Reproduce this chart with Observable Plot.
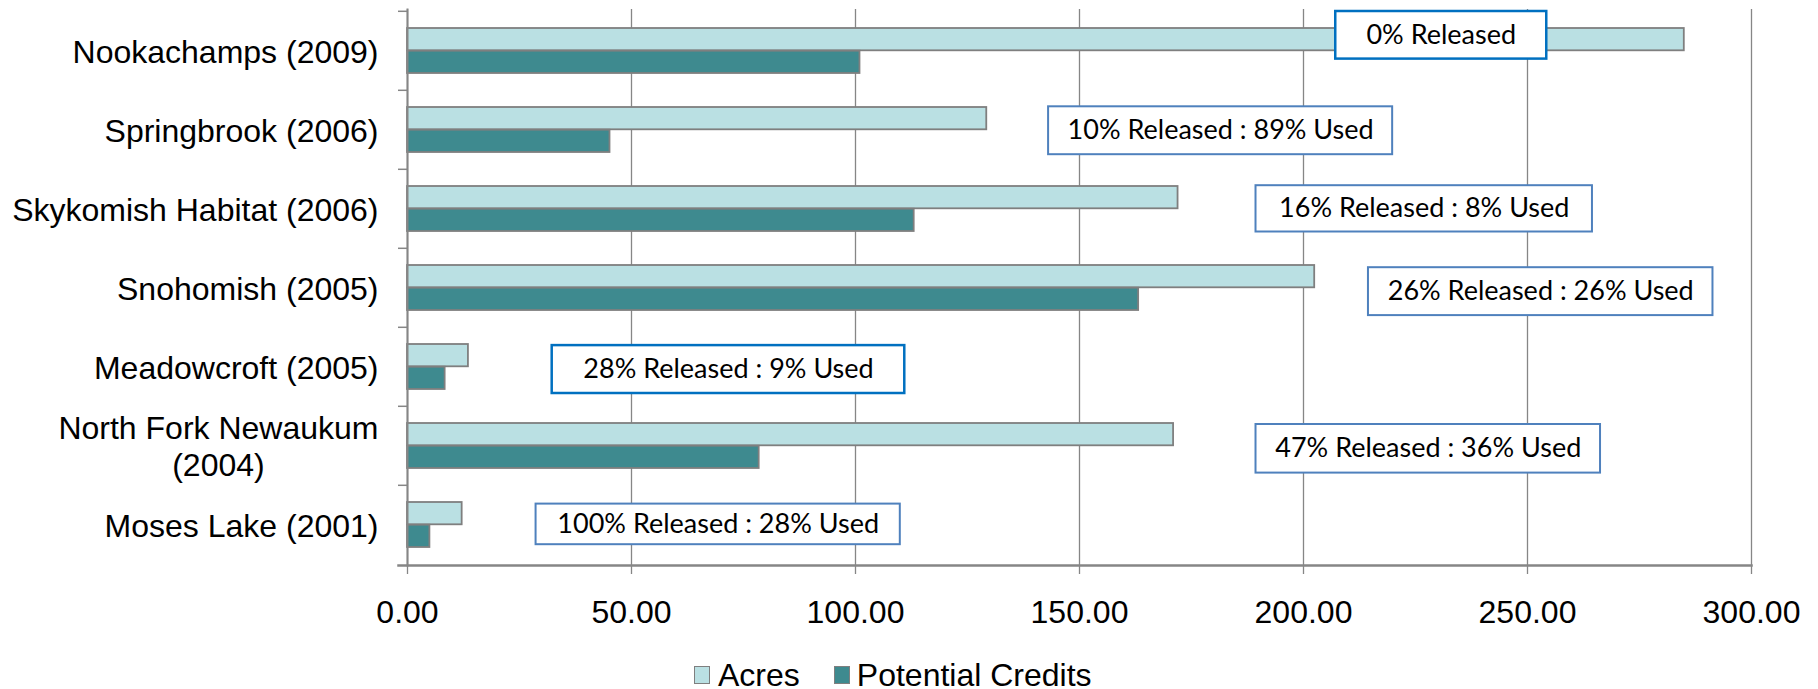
<!DOCTYPE html>
<html>
<head>
<meta charset="utf-8">
<script src="https://cdn.jsdelivr.net/npm/d3@7"></script>
<script src="https://cdn.jsdelivr.net/npm/@observablehq/plot@0.6"></script>
<style>
  html, body { margin: 0; padding: 0; background: #fff; }
  #chart svg { display: block; }
  .legend { position: relative; height: 36px; margin-top: 12px; display: flex; align-items: center;
            padding-left: 694px; font-family: "Liberation Sans", Arial, sans-serif; font-size: 32px; color: #000; }
  .sw { width: 16px; height: 18px; box-sizing: border-box; border: 1.5px solid #7f7f7f; }
</style>
</head>
<body>
<div id="chart"></div>
<div class="legend">
  <span class="sw" id="swA" style="margin-right:8px"></span><span id="lgA" style="margin-right:34px"></span>
  <span class="sw" id="swC" style="margin-right:7px"></span><span id="lgC"></span>
</div>
<script>
// ---- data ----
const categories = ["Nookachamps (2009)", "Springbrook (2006)", "Skykomish Habitat (2006)", "Snohomish (2005)", "Meadowcroft (2005)", "North Fork Newaukum (2004)", "Moses Lake (2001)"];
const acres   = [285.0, 129.3, 172.0, 202.5, 13.6, 171.0, 12.2];
const credits = [101.0, 45.2, 113.1, 163.2, 8.4, 78.5, 5.0];
const seriesNames = ["Acres", "Potential Credits"];
const notes = ["0% Released", "10% Released : 89% Used", "16% Released : 8% Used", "26% Released : 26% Used", "28% Released : 9% Used", "47% Released : 36% Used", "100% Released : 28% Used"];
const xTicks = [0, 50, 100, 150, 200, 250, 300];

// ---- annotation layout (x in data units, vertical insets in px within each band) ----
const noteX1 = [207.2, 143.1, 189.4, 214.5, 32.3, 189.4, 28.7];
const noteX2 = [254.3, 219.9, 264.5, 291.4, 111.0, 266.3, 110.0];
const noteInsetTop = [0, 16.3, 16.2, 19.2, 18.1, 18.0, 18.6];
const noteInsetBottom = [31.4, 14.8, 16.5, 11.9, 13.0, 12.4, 19.8];
const noteStroke = ["#0070C0", "#4F81BD", "#4F81BD", "#4F81BD", "#0070C0", "#4F81BD", "#4F81BD"];
const noteStrokeWidth = [2.5, 2, 2, 2, 2.5, 2, 2];

// ---- styles ----
const colorAcres = "#BAE0E3";
const colorCredits = "#3E8A8F";
const gray = "#868686";
const barStroke = "#7f7f7f";

const rows = categories.map((c, i) => ({category: c, acres: acres[i], credits: credits[i]}));
const noteRows = notes.map((t, i) => ({category: categories[i], note: t, x1: noteX1[i], x2: noteX2[i]}));

const half = 39.7, barH = 22.7;

const noteMarks = noteRows.flatMap((r, i) => [
  Plot.barX([r], {x1: "x1", x2: "x2", y: "category", fill: "white", stroke: noteStroke[i], strokeWidth: noteStrokeWidth[i],
    insetTop: noteInsetTop[i], insetBottom: noteInsetBottom[i], insetLeft: 0, insetRight: 0}),
  Plot.text([r], {x: d => (d.x1 + d.x2) / 2, y: "category", text: "note", dy: (noteInsetTop[i] - noteInsetBottom[i]) / 2,
    fontFamily: "Lato, 'Open Sans', sans-serif", fontSize: 27, fill: "#000", textAnchor: "middle"})
]);

const chart = Plot.plot({
  width: 1818,
  height: 645,
  marginLeft: 407,
  marginRight: 67,
  marginTop: 9,
  marginBottom: 80,
  x: {domain: [0, 300], axis: null},
  y: {domain: categories, padding: 0, axis: null},
  style: {fontFamily: "'Liberation Sans', Arial, sans-serif", fontSize: "32px", color: "#000", background: "#fff"},
  marks: [
    Plot.gridX(xTicks, {stroke: gray, strokeOpacity: 1, strokeWidth: 1.3}),
    Plot.barX(rows, {y: "category", x: "acres", fill: colorAcres, stroke: barStroke, strokeWidth: 1.8,
      insetTop: half - barH, insetBottom: half}),
    Plot.barX(rows, {y: "category", x: "credits", fill: colorCredits, stroke: barStroke, strokeWidth: 1.8,
      insetTop: half, insetBottom: half - barH}),
    Plot.frame({anchor: "left", stroke: gray, strokeWidth: 2}),
    Plot.frame({anchor: "bottom", stroke: gray, strokeWidth: 2.5, insetLeft: -9}),
    Plot.axisY({tickSize: 9, text: null, label: null, stroke: gray, strokeWidth: 1.5, dy: -half}),
    Plot.axisX(xTicks, {tickSize: 9, tickPadding: 26, label: null, stroke: gray, strokeWidth: 1.3,
      tickFormat: d => d.toFixed(2), fontSize: 32, fill: "#000"}),
    Plot.text(categories, {y: d => d, frameAnchor: "left", dx: -29, textAnchor: "end", lineAnchor: "middle",
      text: d => d.replace("Newaukum (", "Newaukum\n("), lineHeight: 1.14, fontSize: 32, fill: "#000"}),
    ...noteMarks
  ]
});
document.getElementById("chart").appendChild(chart);

// center multi-line category labels like the original
chart.querySelectorAll("text").forEach(t => {
  if (t.querySelectorAll("tspan").length > 1) {
    const bb = t.getBBox();
    t.setAttribute("text-anchor", "middle");
    const tr = t.getAttribute("transform") || "";
    t.setAttribute("transform", tr + ` translate(${-bb.width / 2},0)`);
  }
});

document.getElementById("swA").style.background = colorAcres;
document.getElementById("swC").style.background = colorCredits;
document.getElementById("lgA").textContent = seriesNames[0];
document.getElementById("lgC").textContent = seriesNames[1];
</script>
</body>
</html>
